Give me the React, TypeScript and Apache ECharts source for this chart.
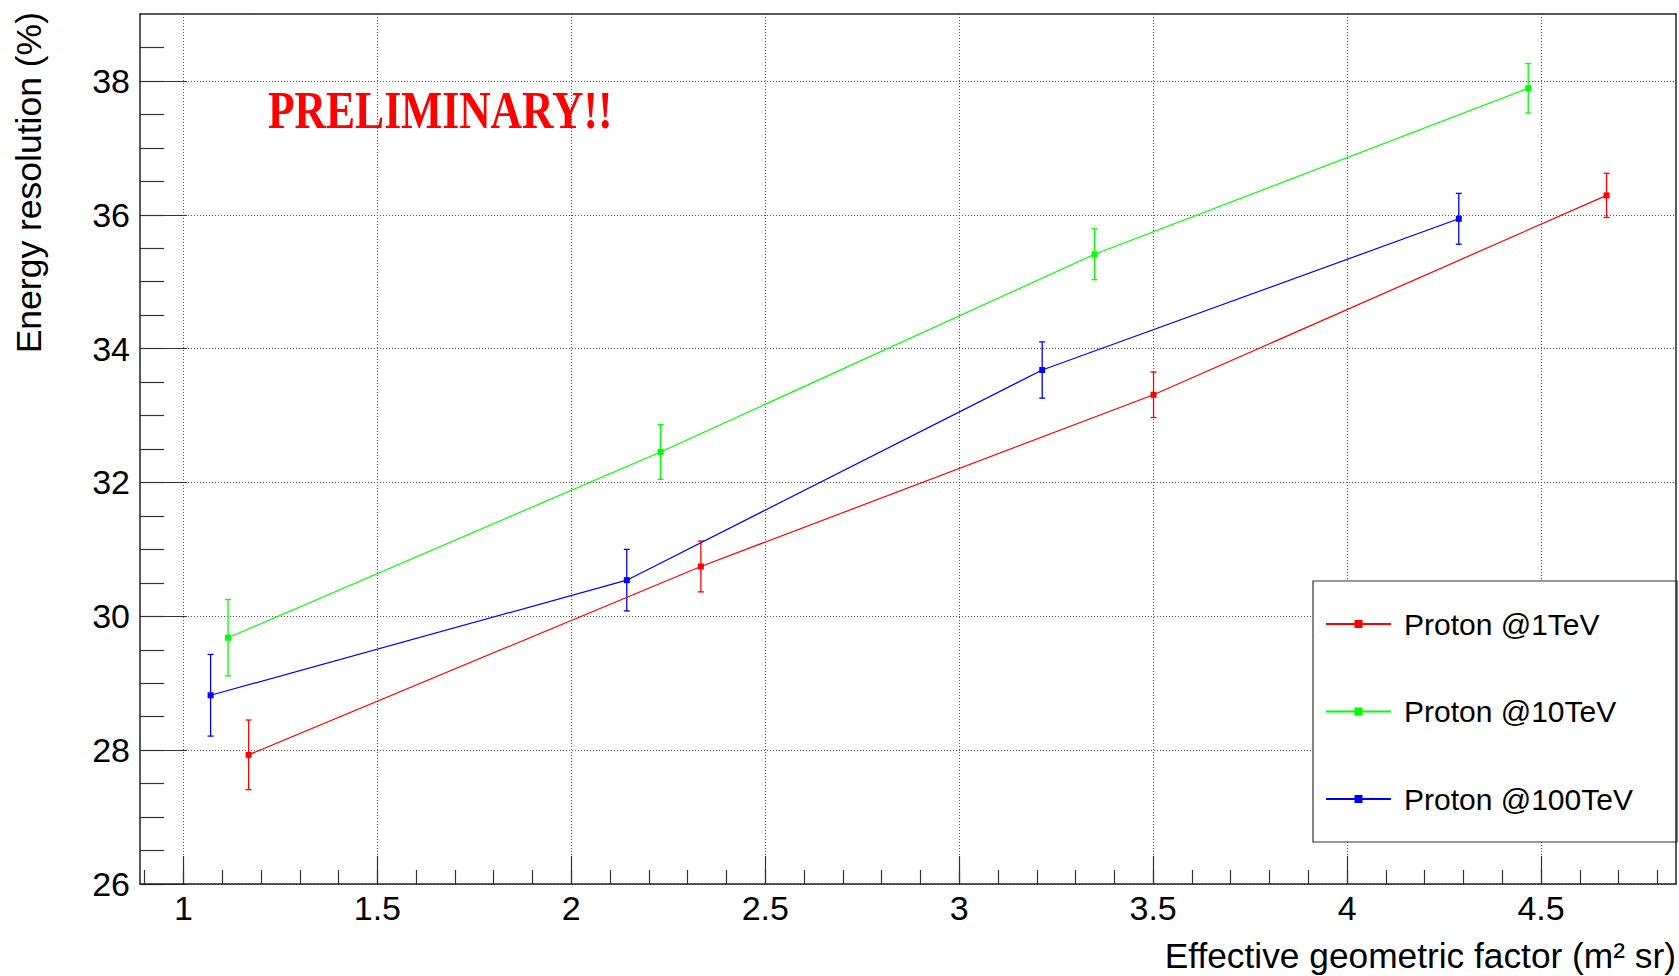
import { useEffect, useRef } from 'react';
import * as echarts from 'echarts';

// Axis extents and tick values
const X_MIN = 0.888;
const X_MAX = 4.848;
const Y_MIN = 26;
const Y_MAX = 39;
const X_MAJOR = [1, 1.5, 2, 2.5, 3, 3.5, 4, 4.5];
const X_MINOR = [
  0.9, 1.0, 1.1, 1.2, 1.3, 1.4, 1.5, 1.6, 1.7, 1.8, 1.9, 2.0, 2.1, 2.2, 2.3, 2.4, 2.5, 2.6, 2.7, 2.8,
  2.9, 3.0, 3.1, 3.2, 3.3, 3.4, 3.5, 3.6, 3.7, 3.8, 3.9, 4.0, 4.1, 4.2, 4.3, 4.4, 4.5, 4.6, 4.7, 4.8,
];
const Y_MAJOR = [26, 28, 30, 32, 34, 36, 38];
const Y_MINOR = [
  26, 26.5, 27, 27.5, 28, 28.5, 29, 29.5, 30, 30.5, 31, 31.5, 32, 32.5, 33, 33.5, 34, 34.5, 35, 35.5,
  36, 36.5, 37, 37.5, 38, 38.5,
];

// Series
const NAMES = ['Proton @1TeV', 'Proton @10TeV', 'Proton @100TeV'];
const COLORS = ['#ff0000', '#00ff00', '#0000ff'];

const p1TeV_x = [1.168, 2.334, 3.501, 4.669];
const p1TeV_y = [27.93, 30.745, 33.31, 36.29];
const p1TeV_err = [0.52, 0.38, 0.34, 0.33];

const p10TeV_x = [1.115, 2.23, 3.349, 4.467];
const p10TeV_y = [29.68, 32.456, 35.41, 37.89];
const p10TeV_err = [0.57, 0.41, 0.38, 0.37];

const p100TeV_x = [1.07, 2.143, 3.214, 4.288];
const p100TeV_y = [28.82, 30.54, 33.68, 35.94];
const p100TeV_err = [0.61, 0.46, 0.42, 0.38];

const X_TITLE = 'Effective geometric factor (m² sr)';
const Y_TITLE = 'Energy resolution (%)';
const STAMP = 'PRELIMINARY!!';

const FONT = '"Liberation Sans", Arial, Helvetica, sans-serif';

export default function App() {
  const ref = useRef<HTMLDivElement>(null);

  useEffect(() => {
    if (!ref.current) return;
    const chart = echarts.init(ref.current, undefined, { renderer: 'svg' });

    const groups = [
      { xs: p1TeV_x, ys: p1TeV_y, es: p1TeV_err },
      { xs: p10TeV_x, ys: p10TeV_y, es: p10TeV_err },
      { xs: p100TeV_x, ys: p100TeV_y, es: p100TeV_err },
    ];

    const tickLine = { color: '#333', width: 1.2 };
    const frameAxisX = (position: string) => ({
      type: 'value',
      min: X_MIN,
      max: X_MAX,
      position,
      z: 10,
      axisLine: { show: true, onZero: false, lineStyle: { color: '#222', width: 1.5 } },
      axisTick: { show: false },
      axisLabel: { show: false },
      splitLine: { show: false },
    });
    const frameAxisY = (position: string) => ({
      type: 'value',
      min: Y_MIN,
      max: Y_MAX,
      position,
      z: 10,
      axisLine: { show: true, onZero: false, lineStyle: { color: '#222', width: 1.5 } },
      axisTick: { show: false },
      axisLabel: { show: false },
      splitLine: { show: false },
    });
    const gridLine = { show: true, lineStyle: { type: [1, 2], color: '#555', width: 1 } };

    const series: any[] = [];
    groups.forEach((g, k) => {
      series.push({
        type: 'line',
        name: NAMES[k],
        xAxisIndex: 0,
        yAxisIndex: 0,
        data: g.xs.map((x, i) => [x, g.ys[i]]),
        symbol: 'rect',
        symbolSize: 6,
        lineStyle: { color: COLORS[k], width: 1.2 },
        itemStyle: { color: COLORS[k] },
        z: 3,
      });
    });
    groups.forEach((g, k) => {
      series.push({
        type: 'custom',
        name: NAMES[k] + ' error',
        xAxisIndex: 0,
        yAxisIndex: 0,
        z: 3,
        data: g.xs.map((x, i) => [x, g.ys[i], g.es[i]]),
        encode: { x: 0, y: 1 },
        renderItem: (params: any, api: any) => {
          const x = api.value(0);
          const y = api.value(1);
          const e = api.value(2);
          const top = api.coord([x, y + e]);
          const bot = api.coord([x, y - e]);
          const hw = 3;
          const style = { stroke: COLORS[k], lineWidth: 1.3, fill: 'none' };
          return {
            type: 'group',
            children: [
              { type: 'line', shape: { x1: top[0], y1: top[1], x2: bot[0], y2: bot[1] }, style },
              { type: 'line', shape: { x1: top[0] - hw, y1: top[1], x2: top[0] + hw, y2: top[1] }, style },
              { type: 'line', shape: { x1: bot[0] - hw, y1: bot[1], x2: bot[0] + hw, y2: bot[1] }, style },
            ],
          };
        },
      });
    });

    chart.setOption({
      animation: false,
      backgroundColor: '#ffffff',
      grid: { left: 140, top: 14, right: 3, bottom: 92, containLabel: false },
      xAxis: [
        {
          type: 'value',
          min: X_MIN,
          max: X_MAX,
          position: 'bottom',
          z: 1,
          axisLine: { show: false, onZero: false },
          axisTick: { show: true, inside: true, length: 28, customValues: X_MAJOR, lineStyle: tickLine },
          axisLabel: {
            show: true,
            customValues: X_MAJOR,
            fontSize: 34,
            fontFamily: FONT,
            color: '#000',
            margin: 7,
          },
          splitLine: gridLine,
        },
        {
          type: 'value',
          min: X_MIN,
          max: X_MAX,
          position: 'bottom',
          z: 1,
          axisLine: { show: false, onZero: false },
          axisTick: { show: true, inside: true, length: 14, customValues: X_MINOR, lineStyle: tickLine },
          axisLabel: { show: false },
          splitLine: { show: false },
        },
        frameAxisX('bottom'),
        frameAxisX('top'),
      ],
      yAxis: [
        {
          type: 'value',
          min: Y_MIN,
          max: Y_MAX,
          position: 'left',
          z: 1,
          axisLine: { show: false, onZero: false },
          axisTick: { show: true, inside: true, length: 47, customValues: Y_MAJOR, lineStyle: tickLine },
          axisLabel: {
            show: true,
            customValues: Y_MAJOR,
            fontSize: 34,
            fontFamily: FONT,
            color: '#000',
            margin: 10,
          },
          splitLine: gridLine,
        },
        {
          type: 'value',
          min: Y_MIN,
          max: Y_MAX,
          position: 'left',
          z: 1,
          axisLine: { show: false, onZero: false },
          axisTick: { show: true, inside: true, length: 24, customValues: Y_MINOR, lineStyle: tickLine },
          axisLabel: { show: false },
          splitLine: { show: false },
        },
        frameAxisY('left'),
        frameAxisY('right'),
      ],
      legend: {
        show: true,
        data: NAMES,
        orient: 'vertical',
        left: 1325,
        top: 609,
        padding: 0,
        itemWidth: 65,
        itemHeight: 10,
        itemGap: 57.5,
        z: 5,
        textStyle: { fontSize: 30, fontFamily: FONT, color: '#000', lineHeight: 30, padding: [0, 0, 0, 8] },
      },
      graphic: [
        {
          type: 'rect',
          z: 4,
          shape: { x: 1313, y: 581, width: 364, height: 261 },
          style: { fill: '#ffffff', stroke: '#333', lineWidth: 1.2 },
        },
        {
          type: 'text',
          x: 268,
          y: 110,
          scaleX: 0.822,
          z: 6,
          style: {
            text: STAMP,
            font: 'bold 53px "Liberation Serif", "Times New Roman", serif',
            fill: '#ff0000',
            textAlign: 'left',
            textVerticalAlign: 'middle',
            align: 'left',
            verticalAlign: 'middle',
          },
        },
        {
          type: 'text',
          x: 29,
          y: 12,
          rotation: Math.PI / 2,
          z: 6,
          style: {
            text: Y_TITLE,
            font: '35.5px ' + FONT,
            fill: '#000',
            textAlign: 'right',
            textVerticalAlign: 'middle',
            align: 'right',
            verticalAlign: 'middle',
          },
        },
        {
          type: 'text',
          x: 1676,
          y: 955,
          z: 6,
          style: {
            text: X_TITLE,
            font: '35.3px ' + FONT,
            fill: '#000',
            textAlign: 'right',
            textVerticalAlign: 'middle',
            align: 'right',
            verticalAlign: 'middle',
          },
        },
      ],
      series,
    });

    return () => {
      chart.dispose();
    };
  }, []);

  return (
    <div
      ref={ref}
      style={{ position: 'absolute', left: 0, top: 0, width: '1679px', height: '976px' }}
    />
  );
}
